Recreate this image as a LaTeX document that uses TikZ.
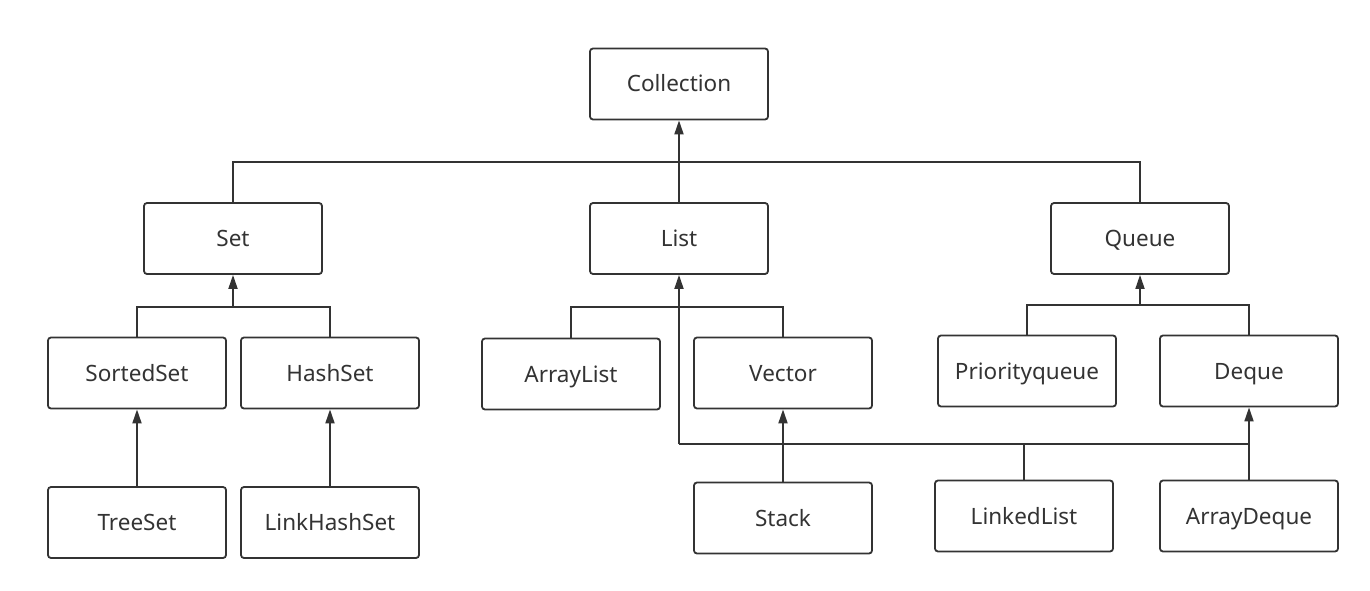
\documentclass[tikz,border=0pt]{standalone}
\usepackage{fontspec}
\setmainfont{Noto Sans}
\usetikzlibrary{arrows.meta}
\definecolor{ink}{HTML}{333333}
\begin{document}
\begin{tikzpicture}[x=1pt,y=-1pt,
  box/.style={draw=ink,line width=1.8pt,rounded corners=3pt,minimum width=178pt,minimum height=71pt,inner sep=0pt,text=ink,font=\fontsize{22.5}{26}\selectfont,text height=16pt,text depth=0pt},
  link/.style={draw=ink,line width=1.8pt},
  arr/.style={link,-{Triangle[length=14pt,width=9pt]}}]
\useasboundingbox (0,0) rectangle (1370,591);
\node[box] (coll) at (679,84) {Collection};
\node[box] (set) at (233,238.5) {Set};
\node[box] (list) at (679,238.5) {List};
\node[box] (queue) at (1140,238.5) {Queue};
\node[box] (sorted) at (137,373) {SortedSet};
\node[box] (hash) at (330,373) {HashSet};
\node[box] (tree) at (137,522.5) {TreeSet};
\node[box] (lhash) at (330,522.5) {LinkHashSet};
\node[box] (alist) at (571,374) {ArrayList};
\node[box] (vector) at (783,373) {Vector};
\node[box] (pq) at (1027,371) {Priorityqueue};
\node[box] (deque) at (1249,371) {Deque};
\node[box] (stack) at (783,518) {Stack};
\node[box] (llist) at (1024,516) {LinkedList};
\node[box] (adeque) at (1249,516) {ArrayDeque};
\coordinate (top) at (679,162);
\coordinate (setj) at (233,307);
\coordinate (listj) at (679,307);
\coordinate (queuej) at (1140,305);
\coordinate (low) at (679,444);
\coordinate (dequej) at (1249,444);
\coordinate (llj) at (1024,444);
% level 1
\draw[link] (set.north) |- (top) -| (queue.north);
\draw[arr] (list.north) -- (coll.south);
% set
\draw[link] (sorted.north) |- (setj) -| (hash.north);
\draw[arr] (setj) -- (set.south);
\draw[arr] (tree.north) -- (sorted.south);
\draw[arr] (lhash.north) -- (hash.south);
% list
\draw[link] (alist.north) |- (listj) -| (vector.north);
\draw[arr] (low) -- (list.south);
\draw[link] (low) -- (dequej);
\draw[arr] (stack.north) -- (vector.south);
% queue
\draw[link] (pq.north) |- (queuej) -| (deque.north);
\draw[arr] (queuej) -- (queue.south);
\draw[arr] (adeque.north) -- (deque.south);
\draw[link] (llist.north) -- (llj);
\end{tikzpicture}
\end{document}
